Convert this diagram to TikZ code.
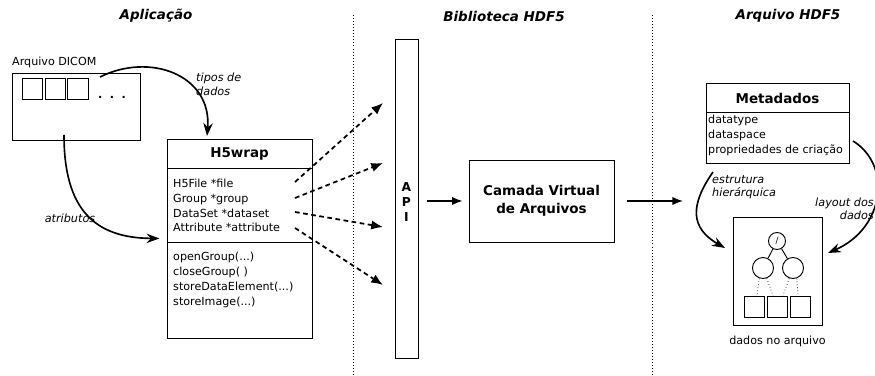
\documentclass[tikz,border=0pt]{standalone}
\usepackage{fontspec}
\setmainfont{DejaVu Sans}[ItalicFont={DejaVu Sans Oblique},BoldItalicFont={DejaVu Sans Bold Oblique}]
\usetikzlibrary{arrows.meta,calc}

\tikzset{
  box/.style={draw, line width=0.8pt, inner sep=0pt},
  title/.style={font=\fontsize{11.5}{13}\selectfont\bfseries\itshape},
  header/.style={font=\fontsize{11.5}{13}\selectfont\bfseries},
  lbl/.style={font=\fontsize{9.5}{12.6}\selectfont, align=left, inner sep=0pt},
  note/.style={lbl, font=\fontsize{9.6}{11.5}\selectfont\itshape},
  sep/.style={dotted, line width=0.6pt},
  curvearrow/.style={line width=1.4pt, -{Stealth[length=11pt,width=8pt]}},
  dasharrow/.style={line width=1.5pt, dash pattern=on 4pt off 3pt, -{Latex[length=10pt,width=8pt]}},
  straightarrow/.style={line width=1.2pt, -{Latex[length=9pt,width=7pt]}},
  treenode/.style={draw, circle, line width=0.8pt, inner sep=0pt}
}

\begin{document}
\begin{tikzpicture}[x=0.03cm, y=-0.03cm]
\useasboundingbox (0,0) rectangle (875,376);

% titles
\node[title] (tapp) at (156,16) {Aplicação};
\node[title] (tlib) at (504,16) {Biblioteca HDF5};
\node[title] (tfile) at (788,16) {Arquivo HDF5};

% separators
\draw[sep] (353,15) -- (353,376);
\draw[sep] (652,15) -- (652,376);

% DICOM file
\node[box, minimum width=3.84cm, minimum height=2.01cm] (dicom) at (76,106.5) {};
\node[lbl, anchor=west] (dicomlbl) at (12,62) {Arquivo DICOM};
\foreach \i/\x in {1/32.5, 2/55.5, 3/78}
  \node[box, minimum width=0.62cm, minimum height=0.63cm] (el\i) at (\x,88.5) {};
\node[font=\fontsize{9.5}{10}\selectfont\bfseries, inner sep=0pt] (dots) at (112,97) {.\hspace{6.5pt}.\hspace{6.5pt}.};

% H5wrap
\node[box, minimum width=4.35cm, minimum height=5.97cm] (h5wrap) at (239.5,238.5) {};
\draw[line width=0.8pt] (167,168) -- (312,168);
\draw[line width=0.8pt] (167,242) -- (312,242);
\node[header] (h5title) at (239.5,154) {H5wrap};
\node[lbl, anchor=west] (h5attr) at (173,205.5) {H5File *file\\Group *group\\DataSet *dataset\\Attribute *attribute};
\node[lbl, anchor=west] (h5meth) at (173,280) {openGroup(...)\\closeGroup( )\\storeDataElement(...)\\storeImage(...)};

% API
\node[box, minimum width=0.69cm, minimum height=9.57cm] (api) at (406.5,198.5) {};
\node[font=\fontsize{10.5}{12.5}\selectfont\bfseries, align=center, inner sep=0pt] (apilbl) at (406.5,202) {A\\P\\I};

% virtual file layer
\node[box, minimum width=4.35cm, minimum height=2.46cm, font=\fontsize{11.5}{15}\selectfont\bfseries, align=center] (vfl) at (541.5,201) {Camada Virtual\\de Arquivos};

% metadata
\node[box, minimum width=4.29cm, minimum height=2.4cm] (meta) at (777.5,123) {};
\draw[line width=0.8pt] (706,112) -- (849,112);
\node[header] (metatitle) at (777.5,98) {Metadados};
\node[lbl, anchor=west] (metaattr) at (708,135.5) {datatype\\dataspace\\propriedades de criação};

% data in file
\node[box, minimum width=2.67cm, minimum height=3.24cm] (dados) at (777.5,271) {};
\node[lbl] (dadoslbl) at (777.5,341) {dados no arquivo};
\node[treenode, minimum size=0.51cm, font=\fontsize{7.5}{8}\selectfont] (root) at (777,241) {/};
\node[treenode, minimum size=0.63cm] (lc) at (763,268) {};
\node[treenode, minimum size=0.63cm] (rc) at (793,268) {};
\foreach \i/\x in {1/754, 2/777, 3/800}
  \node[box, minimum width=0.6cm, minimum height=0.63cm] (leaf\i) at (\x,306.5) {};
\draw[line width=0.8pt] (root) -- (lc);
\draw[line width=0.8pt] (root) -- (rc);
\draw[dotted, line width=0.6pt] (lc.250) -- ($(leaf1.north)+(3,0)$);
\draw[dotted, line width=0.6pt] (lc.290) -- ($(leaf2.north)+(-4,0)$);
\draw[dotted, line width=0.6pt] (rc.250) -- ($(leaf2.north)+(6,0)$);
\draw[dotted, line width=0.6pt] (rc.290) -- ($(leaf3.north)+(-2,0)$);

% tipos de dados
\coordinate (tstart) at (100,77);
\coordinate (tend) at (207,136);
\draw[curvearrow] (tstart) .. controls (150,52) and (212,75) .. (tend);
\node[note, anchor=west] (tiposlbl) at (196,84.5) {tipos de\\dados};

% atributos
\coordinate (astart) at (64,135);
\draw[curvearrow, shorten >=6pt] (astart) .. controls (64,210) and (95,238) .. (h5wrap.west);
\node[note] (atriblbl) at (70,218) {atributos};

% calls into the API
\foreach \i/\a/\b in {1/182/103, 2/198/163, 3/212/227, 4/228/285} {
  \coordinate (ds\i) at (295,\a);
  \coordinate (de\i) at (383,\b);
  \draw[dasharrow] (ds\i) -- (de\i);
}

% API -> VFL -> file
\draw[straightarrow, shorten <=7.5pt, shorten >=5pt] (api.east |- vfl.west) -- (vfl.west);
\coordinate (file) at (683,201);
\draw[straightarrow, shorten <=11pt] (vfl.east) -- (file);

% estrutura hierarquica
\coordinate (estart) at (713,172);
\coordinate (eend) at (725,248);
\draw[curvearrow] (estart) .. controls (690,205) and (690,228) .. (eend);
\node[note, anchor=west] (estrlbl) at (712,187) {estrutura\\hierárquica};

% layout dos dados
\coordinate (lstart) at (853,141);
\coordinate (lend) at (828,253);
\draw[curvearrow] (lstart) .. controls (892,165) and (885,228) .. (lend);
\node[note, align=right, anchor=east] (layoutlbl) at (874,209) {layout dos\\dados};

\end{tikzpicture}
\end{document}
